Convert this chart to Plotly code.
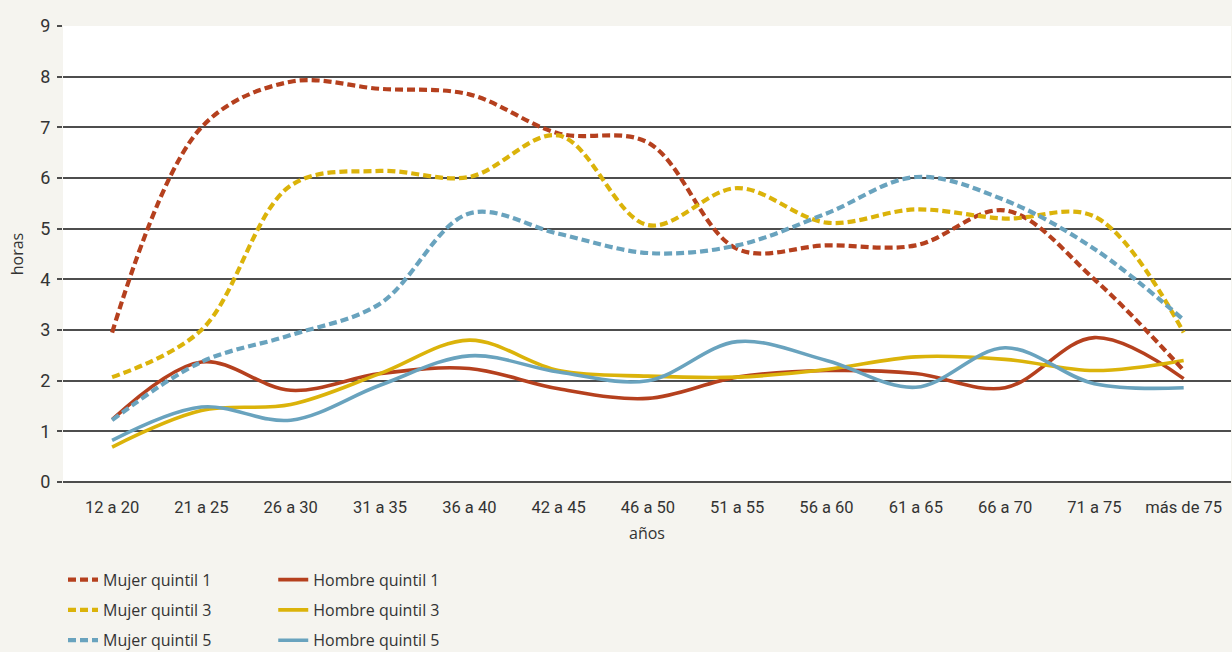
import plotly.graph_objects as go

# Age groups (x axis categories)
edades = ["12 a 20", "21 a 25", "26 a 30", "31 a 35", "36 a 40", "42 a 45",
          "46 a 50", "51 a 55", "56 a 60", "61 a 65", "66 a 70", "71 a 75",
          "más de 75"]

# Hours per group and series
mujer_q1 = [2.95, 7.0, 7.9, 7.76, 7.65, 6.88, 6.7, 4.6, 4.67, 4.67, 5.36, 4.0, 2.2]
mujer_q3 = [2.07, 3.0, 5.85, 6.14, 6.02, 6.84, 5.07, 5.8, 5.12, 5.38, 5.2, 5.24, 2.95]
mujer_q5 = [1.22, 2.37, 2.9, 3.52, 5.3, 4.9, 4.52, 4.67, 5.3, 6.02, 5.56, 4.6, 3.2]
hombre_q1 = [1.23, 2.37, 1.81, 2.14, 2.24, 1.84, 1.65, 2.07, 2.2, 2.14, 1.86, 2.85, 2.04]
hombre_q3 = [0.69, 1.41, 1.53, 2.14, 2.8, 2.2, 2.09, 2.07, 2.22, 2.47, 2.42, 2.2, 2.4]
hombre_q5 = [0.82, 1.48, 1.22, 1.91, 2.49, 2.17, 2.0, 2.77, 2.4, 1.87, 2.65, 1.94, 1.86]

ROJO = "#b5401e"
AMARILLO = "#dbb30a"
AZUL = "#69a3be"
TEXTO = "#333333"
GRID = "#4d4d4d"
FONDO = "#f5f4ef"
TICK_FONT = "Roboto"
TEXT_FONT = "Open Sans"

series = [
    ("Mujer quintil 1", mujer_q1, ROJO, True, "legend", 1),
    ("Mujer quintil 3", mujer_q3, AMARILLO, True, "legend", 2),
    ("Mujer quintil 5", mujer_q5, AZUL, True, "legend", 3),
    ("Hombre quintil 1", hombre_q1, ROJO, False, "legend2", 1),
    ("Hombre quintil 3", hombre_q3, AMARILLO, False, "legend2", 2),
    ("Hombre quintil 5", hombre_q5, AZUL, False, "legend2", 3),
]

fig = go.Figure()
# draw solid lines first so the dashed ones sit on top
for nombre, valores, color, punteada, leyenda, orden in sorted(series, key=lambda s: s[3]):
    fig.add_trace(go.Scatter(
        x=edades, y=valores, name=nombre, mode="lines",
        line=dict(color=color, width=4.2 if punteada else 3.6,
                  dash="8px,4px" if punteada else "solid",
                  shape="spline", smoothing=1.0),
        legend=leyenda, legendgroup=nombre, legendrank=orden,
        hoverinfo="x+y+name",
    ))

leyenda_base = dict(
    orientation="v", yanchor="top", xanchor="left", yref="container",
    font=dict(family=TEXT_FONT, size=16, color=TEXTO),
    bgcolor="rgba(0,0,0,0)", tracegroupgap=6.5, itemwidth=30,
    traceorder="grouped",
)

fig.update_layout(
    width=1232, height=652,
    margin=dict(l=63, r=1, t=26, b=170),
    paper_bgcolor=FONDO, plot_bgcolor="white",
    font=dict(family=TEXT_FONT, size=16, color=TEXTO),
    showlegend=True,
    legend=dict(leyenda_base, x=0.0, y=0.137),
    legend2=dict(leyenda_base, x=0.18, y=0.137),
    xaxis=dict(
        type="category", range=[-0.55, 12.53], automargin=False,
        showgrid=False, showline=False, zeroline=False,
        ticks="", ticklabelstandoff=13,
        tickfont=dict(family=TICK_FONT, size=16.5, color=TEXTO),
        title=dict(text="años", standoff=12,
                   font=dict(family=TEXT_FONT, size=16, color=TEXTO)),
    ),
    yaxis=dict(
        range=[0, 9], dtick=1, automargin=False,
        showgrid=True, gridcolor=GRID, gridwidth=1.5,
        zeroline=True, zerolinecolor=GRID, zerolinewidth=2,
        ticks="outside", ticklen=5, tickcolor=GRID, tickwidth=1.5,
        ticklabelstandoff=3,
        tickfont=dict(family=TICK_FONT, size=18, color=TEXTO),
        title=dict(text="horas", standoff=12,
                   font=dict(family=TEXT_FONT, size=16, color=TEXTO)),
    ),
)

fig.write_html("out.html")
